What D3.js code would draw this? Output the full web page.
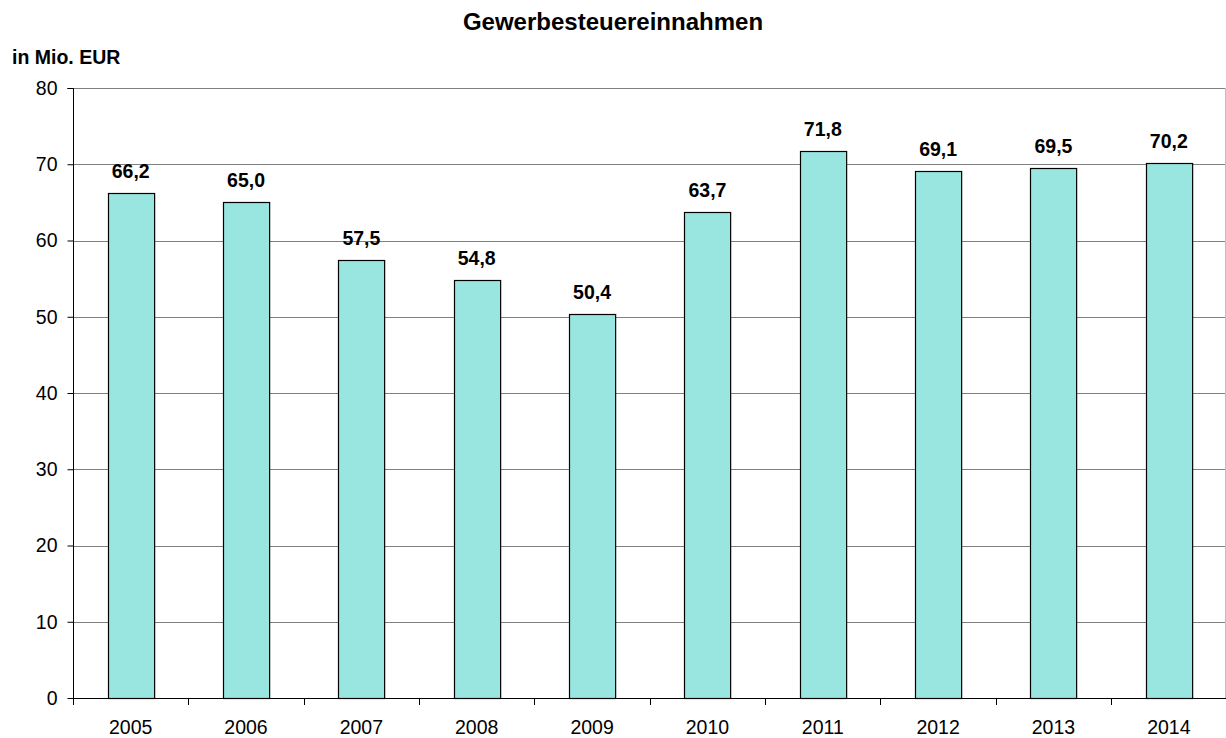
<!DOCTYPE html>
<html>
<head>
<meta charset="utf-8">
<script src="https://cdn.jsdelivr.net/npm/d3@7"></script>
<style>
  body { margin: 0; background: #fff; }
  text { font-family: "Liberation Sans", Arial, sans-serif; }
</style>
</head>
<body>
<svg id="chart"></svg>
<script>
const years = ["2005", "2006", "2007", "2008", "2009", "2010", "2011", "2012", "2013", "2014"];
const values = [66.2, 65.0, 57.5, 54.8, 50.4, 63.7, 71.8, 69.1, 69.5, 70.2];
const yTicks = [0, 10, 20, 30, 40, 50, 60, 70, 80];

let width = 1226,
  height = 738;
let margin = { top: 88, right: 0, bottom: 40, left: 73 };

const svg = d3.select("#chart").attr("width", width).attr("height", height);

let x = d3
  .scaleBand()
  .domain(years)
  .range([margin.left, 1226.5])
  .paddingInner(0.6)
  .paddingOuter(0.3);

let y = d3
  .scaleLinear()
  .domain([0, 80])
  .range([height - margin.bottom, margin.top]);

// grid lines
svg
  .append("g")
  .selectAll("line")
  .data(yTicks.slice(1))
  .enter()
  .append("line")
  .attr("x1", margin.left)
  .attr("x2", width)
  .attr("y1", d => Math.round(y(d)) + 0.5)
  .attr("y2", d => Math.round(y(d)) + 0.5)
  .attr("stroke", "#808080")
  .attr("stroke-width", 1);

// right border
svg
  .append("line")
  .attr("x1", 1225.5)
  .attr("x2", 1225.5)
  .attr("y1", margin.top)
  .attr("y2", y(0))
  .attr("stroke", "#c0c0c0");

// bars
svg
  .append("g")
  .selectAll("rect")
  .data(values)
  .enter()
  .append("rect")
  .attr("x", (d, i) => Math.round(x(years[i])) + 0.5)
  .attr("y", d => Math.round(y(d)) + 0.5)
  .attr("width", x.bandwidth())
  .attr("height", d => Math.round(y(0)) - Math.round(y(d)))
  .attr("fill", "#99e6e1")
  .attr("stroke", "#000")
  .attr("stroke-width", 1.2);

// value labels
svg
  .append("g")
  .selectAll("text")
  .data(values)
  .enter()
  .append("text")
  .attr("x", (d, i) => x(years[i]) + x.bandwidth() / 2)
  .attr("y", d => y(d) - 15)
  .attr("text-anchor", "middle")
  .attr("font-size", "19.5px")
  .attr("font-weight", "bold")
  .text(d => d.toFixed(1).replace(".", ","));

// y axis
const yAxis = d3
  .axisLeft(y)
  .tickValues(yTicks)
  .tickSize(6)
  .tickPadding(10)
  .tickFormat(d3.format("d"));
const gy = svg
  .append("g")
  .attr("transform", "translate(" + (margin.left + 0.5) + ",0)")
  .call(yAxis);
gy.selectAll("text").attr("font-size", "19.5px").attr("font-family", "Liberation Sans, Arial, sans-serif");
gy.selectAll("line").attr("stroke", "#000");
gy.select(".domain").attr("stroke", "#000").attr("d", "M-6," + (y(80) + 0.5) + "H0V" + (y(0) + 0.5));

// x axis
const step = x.step();
const boundaries = d3.range(0, years.length + 1).map(i => margin.left + i * step);
const gx = svg.append("g");
gx.append("line")
  .attr("x1", margin.left)
  .attr("x2", width)
  .attr("y1", Math.round(y(0)) + 0.5)
  .attr("y2", Math.round(y(0)) + 0.5)
  .attr("stroke", "#000");
gx.selectAll(".tk")
  .data(boundaries)
  .enter()
  .append("line")
  .attr("class", "tk")
  .attr("x1", d => Math.round(d) + 0.5)
  .attr("x2", d => Math.round(d) + 0.5)
  .attr("y1", Math.round(y(0)))
  .attr("y2", Math.round(y(0)) + 7)
  .attr("stroke", "#000");
gx.selectAll(".lbl")
  .data(years)
  .enter()
  .append("text")
  .attr("class", "lbl")
  .attr("x", d => x(d) + x.bandwidth() / 2)
  .attr("y", y(0) + 36)
  .attr("text-anchor", "middle")
  .attr("font-size", "19.5px")
  .text(d => d);

// title and unit
svg
  .append("text")
  .attr("x", 613)
  .attr("y", 30)
  .attr("text-anchor", "middle")
  .attr("font-size", "24px")
  .attr("font-weight", "bold")
  .text("Gewerbesteuereinnahmen");

svg
  .append("text")
  .attr("x", 12)
  .attr("y", 64)
  .attr("font-size", "19.5px")
  .attr("font-weight", "bold")
  .text("in Mio. EUR");
</script>
</body>
</html>
